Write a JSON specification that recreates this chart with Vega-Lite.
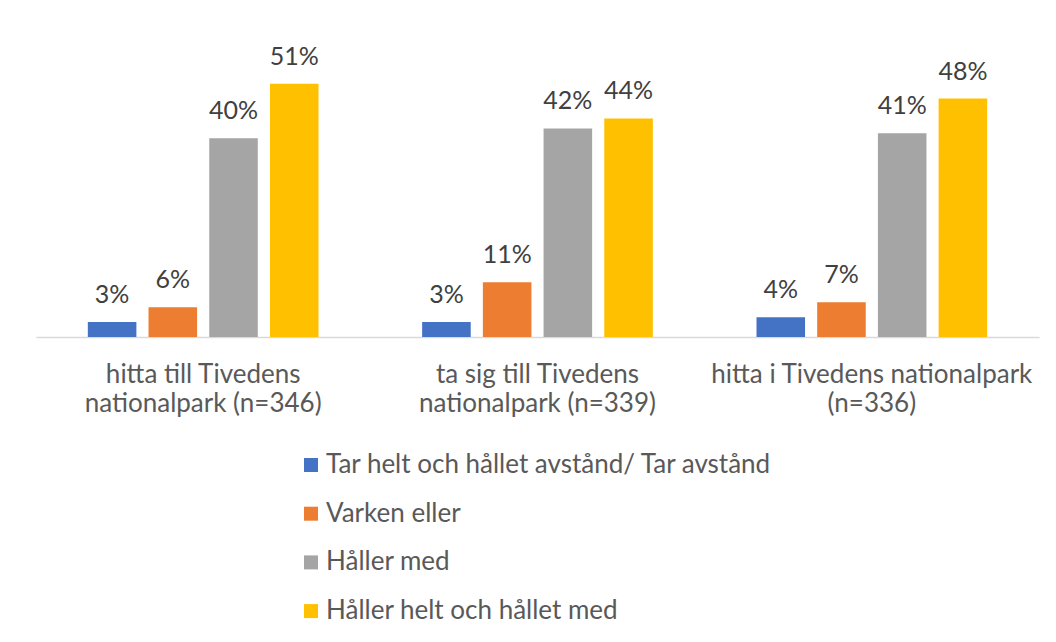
{
  "$schema": "https://vega.github.io/schema/vega-lite/v6.json",
  "autosize": {"type": "none"},
  "width": 1003,
  "height": 298,
  "padding": {"left": 36, "top": 39, "right": 17, "bottom": 305},
  "background": "white",
  "config": {"view": {"stroke": null}, "font": "Lato"},
  "data": {
    "values": [
      {"grupp": "hitta till Tivedens|nationalpark (n=346)", "svar": "Tar helt och hållet avstånd/ Tar avstånd", "andel": 0.03},
      {"grupp": "hitta till Tivedens|nationalpark (n=346)", "svar": "Varken eller", "andel": 0.06},
      {"grupp": "hitta till Tivedens|nationalpark (n=346)", "svar": "Håller med", "andel": 0.40},
      {"grupp": "hitta till Tivedens|nationalpark (n=346)", "svar": "Håller helt och hållet med", "andel": 0.51},
      {"grupp": "ta sig till Tivedens|nationalpark (n=339)", "svar": "Tar helt och hållet avstånd/ Tar avstånd", "andel": 0.03},
      {"grupp": "ta sig till Tivedens|nationalpark (n=339)", "svar": "Varken eller", "andel": 0.11},
      {"grupp": "ta sig till Tivedens|nationalpark (n=339)", "svar": "Håller med", "andel": 0.42},
      {"grupp": "ta sig till Tivedens|nationalpark (n=339)", "svar": "Håller helt och hållet med", "andel": 0.44},
      {"grupp": "hitta i Tivedens nationalpark|(n=336)", "svar": "Tar helt och hållet avstånd/ Tar avstånd", "andel": 0.04},
      {"grupp": "hitta i Tivedens nationalpark|(n=336)", "svar": "Varken eller", "andel": 0.07},
      {"grupp": "hitta i Tivedens nationalpark|(n=336)", "svar": "Håller med", "andel": 0.41},
      {"grupp": "hitta i Tivedens nationalpark|(n=336)", "svar": "Håller helt och hållet med", "andel": 0.48}
    ]
  },
  "encoding": {
    "x": {
      "field": "grupp", "type": "nominal", "sort": null,
      "scale": {"paddingInner": 0.31, "paddingOuter": 0.155},
      "axis": {
        "title": null, "labelAngle": 0, "ticks": false,
        "domainColor": "#d9d9d9", "domainWidth": 1.5,
        "labelExpr": "split(datum.label, '|')",
        "labelFontSize": 26, "labelColor": "#595959", "labelPadding": 24,
        "labelLineHeight": 29, "labelFont": "Lato", "labelLimit": 400
      }
    },
    "xOffset": {
      "field": "svar", "type": "nominal", "sort": null,
      "scale": {"paddingInner": 0.2, "paddingOuter": 0}
    },
    "y": {
      "field": "andel", "type": "quantitative",
      "scale": {"domain": [0, 0.6]},
      "axis": null
    }
  },
  "layer": [
    {
      "mark": {"type": "bar"},
      "encoding": {
        "color": {
          "field": "svar", "type": "nominal", "sort": null,
          "scale": {
            "domain": ["Tar helt och hållet avstånd/ Tar avstånd", "Varken eller", "Håller med", "Håller helt och hållet med"],
            "range": ["#4472C4", "#ED7D31", "#A5A5A5", "#FFC000"]
          },
          "legend": {
            "title": null, "orient": "none", "direction": "vertical",
            "legendX": 262, "legendY": 413,
            "symbolType": "square", "symbolSize": 196, "symbolStrokeWidth": 0,
            "labelFontSize": 26, "labelColor": "#595959", "labelFont": "Lato",
            "rowPadding": 22.7, "labelOffset": 2, "labelLimit": 700
          }
        }
      }
    },
    {
      "mark": {"type": "text", "baseline": "alphabetic", "dy": -19, "fontSize": 25, "color": "#404040", "font": "Lato"},
      "encoding": {
        "text": {"field": "andel", "type": "quantitative", "format": ".0%"},
        "detail": {"field": "svar"}
      }
    }
  ]
}
